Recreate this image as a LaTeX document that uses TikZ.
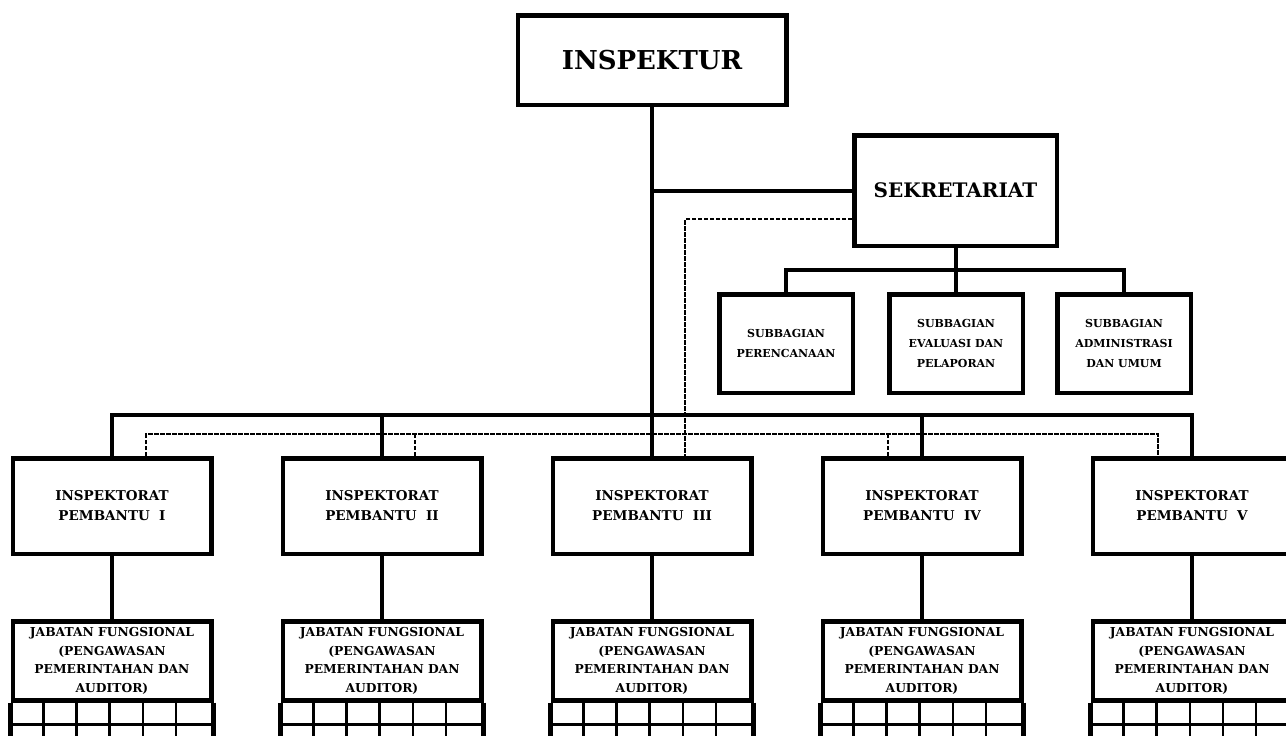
\documentclass[tikz,border=0pt]{standalone}
\usepackage{fontspec}
\setmainfont{DejaVu Serif}
\usetikzlibrary{calc}
\begin{document}
\begin{tikzpicture}[x=1pt,y=-1pt,
  box/.style={draw,line width=4.5pt,align=center,inner sep=0pt},
  conn/.style={line width=4pt},
  dashconn/.style={line width=2pt,dash pattern=on 4.5pt off 1.5pt},
  gridline/.style={line width=2.5pt},
  fbig/.style={font=\bfseries\fontsize{26}{31}\selectfont},
  fsek/.style={font=\bfseries\fontsize{20}{24}\selectfont},
  fsub/.style={font=\bfseries\fontsize{11}{20}\selectfont},
  fip/.style={font=\bfseries\fontsize{13.5}{20}\selectfont},
  fjf/.style={font=\bfseries\fontsize{12.3}{18.5}\selectfont}]
\useasboundingbox (0,0) rectangle (1286,736);
\clip (0,0) rectangle (1286,736);

\node[box,fbig,minimum width=268.5pt,minimum height=89.5pt] (insp) at (652,60) {INSPEKTUR};
\node[box,fsek,minimum width=202.5pt,minimum height=110.5pt] (sek) at (955.5,190.5) {SEKRETARIAT};

\node[box,fsub,minimum width=133.5pt,minimum height=98.5pt] (sb1) at (786,343.5) {SUBBAGIAN\\PERENCANAAN};
\node[box,fsub,minimum width=133.5pt,minimum height=98.5pt] (sb2) at (956,343.5) {SUBBAGIAN\\EVALUASI DAN\\PELAPORAN};
\node[box,fsub,minimum width=133.5pt,minimum height=98.5pt] (sb3) at (1124,343.5) {SUBBAGIAN\\ADMINISTRASI\\DAN UMUM};

\foreach \i/\cx/\nm in {1/112/I,2/382/II,3/652/III,4/922/IV,5/1192/V} {
  \node[box,fip,minimum width=198.5pt,minimum height=95.5pt] (ip\i) at (\cx,506) {INSPEKTORAT\\PEMBANTU\ \ \nm};
  \node[box,fjf,minimum width=198.5pt,minimum height=78.75pt,anchor=north] (jf\i) at (\cx,619.25)
    {JABATAN FUNGSIONAL\\(PENGAWASAN\\PEMERINTAHAN DAN\\AUDITOR)};
  \draw[conn] (ip\i.south) -- (jf\i.north);
  % grid below the header
  \draw[gridline] ($(jf\i.south west)+(0,22)$) -- ($(jf\i.south east)+(0,22)$);
  \foreach \k in {1,...,5} {
    \draw[gridline] ($(jf\i.south west)+(33.08*\k,0)$) -- ++(0,60);
  }
  \draw[line width=4.5pt] (jf\i.south west) -- ++(0,60);
  \draw[line width=4.5pt] (jf\i.south east) -- ++(0,60);
}

% solid connectors
\coordinate (bus) at (652,415);
\coordinate (sbbus) at (956,270);
\draw[conn] (insp.south) -- (ip3.north);
\draw[conn] (insp.south |- sek.west) -- (sek.west);
\draw[conn,line join=miter] (ip1.north) -- (ip1.north |- bus) -- (ip5.north |- bus) -- (ip5.north);
\draw[conn] (ip2.north) -- (ip2.north |- bus);
\draw[conn] (ip4.north) -- (ip4.north |- bus);
\draw[conn] (sek.south) -- (sek.south |- sbbus);
\draw[conn,line join=miter] (sb1.north) -- (sb1.north |- sbbus) -- (sb3.north |- sbbus) -- (sb3.north);
\draw[conn] (sb2.north) -- (sb2.north |- sbbus);

% dashed connectors
\coordinate (dbus) at (652,434);
\draw[dashconn] ([yshift=-28.5pt]sek.west) -| ([xshift=33pt]ip3.north);
\draw[dashconn] ([xshift=34pt]ip1.north) -- ([xshift=34pt]ip1.north |- dbus) -- ([xshift=-34pt]ip5.north |- dbus) -- ([xshift=-34pt]ip5.north);
\draw[dashconn] ([xshift=33pt]ip2.north) -- ([xshift=33pt]ip2.north |- dbus);
\draw[dashconn] ([xshift=-34pt]ip4.north) -- ([xshift=-34pt]ip4.north |- dbus);
\end{tikzpicture}
\end{document}
